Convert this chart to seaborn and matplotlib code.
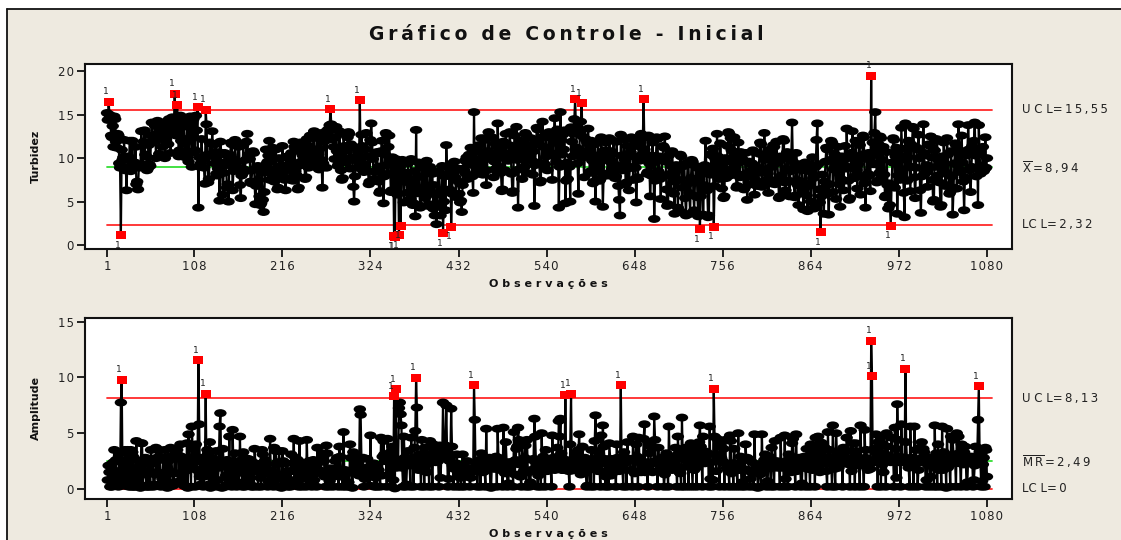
import numpy as np
import pandas as pd
import matplotlib
matplotlib.use("Agg")
import matplotlib.pyplot as plt
import seaborn as sns
from matplotlib.path import Path
from matplotlib.markers import MarkerStyle
from matplotlib.patches import Rectangle
from matplotlib.lines import Line2D
from matplotlib.transforms import Affine2D, blended_transform_factory

# ---------------------------------------------------------------- data
turbidez = [
    # 1-100
    15.2, 14.4, 16.5, 15.0, 14.8, 12.6, 12.4, 13.7, 11.3, 14.8, 14.5, 11.9, 11.2, 12.8, 12.6, 9.4, 8.9, 1.15, 10.95, 9.8,
    10.1, 12.1, 8.6, 8.9, 6.3, 9.8, 10.2, 10.0, 12.0, 8.5, 8.7, 12.0, 9.1, 9.3, 9.5, 11.3, 7.0, 7.3, 6.4, 8.9,
    9.1, 9.0, 13.1, 9.0, 9.3, 11.9, 13.2, 10.4, 10.2, 8.6, 8.8, 11.5, 9.3, 9.1, 12.6, 14.1, 11.8, 12.0, 12.4, 13.7,
    10.0, 12.8, 14.3, 14.0, 10.5, 13.4, 13.6, 12.2, 11.3, 13.9, 13.5, 10.0, 12.7, 14.2, 14.1, 11.6, 14.5, 14.3, 10.6, 13.3,
    14.7, 14.4, 13.8, 17.4, 14.0, 12.6, 16.1, 13.2, 10.2, 10.9, 14.9, 12.0, 10.8, 13.6, 13.9, 11.7, 10.1, 10.3, 14.4, 14.5,
    # 101-200
    9.6, 12.3, 14.8, 14.6, 9.0, 12.6, 14.5, 10.7, 10.9, 14.9, 13.2, 15.85, 4.3, 10.1, 9.0, 9.4, 12.2, 9.8, 10.0, 8.9,
    7.05, 15.6, 13.9, 10.4, 7.2, 7.6, 11.8, 11.7, 10.3, 13.1, 10.5, 10.2, 9.4, 11.6, 8.2, 8.0, 8.8, 10.7, 5.1, 11.9,
    9.5, 9.4, 5.8, 8.3, 10.6, 10.4, 9.2, 6.6, 7.0, 5.0, 9.7, 10.4, 11.8, 11.6, 6.3, 8.5, 8.9, 12.1, 9.7, 9.5,
    8.9, 11.3, 11.6, 6.9, 5.4, 8.0, 8.2, 11.5, 8.7, 8.5, 9.8, 11.9, 12.8, 10.1, 10.4, 9.9, 7.3, 7.1, 8.6, 10.8,
    10.6, 7.0, 4.7, 6.8, 8.9, 9.1, 7.5, 5.6, 4.6, 4.8, 8.3, 5.2, 3.8, 6.1, 8.7, 11.0, 9.4, 9.6, 10.3, 12.0,
    # 201-300
    7.5, 8.2, 9.8, 11.2, 11.0, 7.3, 7.6, 11.0, 8.8, 6.4, 6.6, 10.0, 9.1, 7.9, 8.0, 11.4, 8.9, 7.8, 7.5, 6.3,
    8.6, 10.2, 10.0, 9.3, 7.7, 7.5, 10.6, 9.0, 7.4, 11.9, 11.3, 8.5, 8.1, 9.0, 6.4, 6.6, 10.9, 11.8, 9.6, 9.4,
    10.3, 11.5, 9.2, 7.6, 7.8, 12.2, 10.8, 8.9, 11.4, 12.6, 10.1, 10.3, 9.7, 12.3, 13.1, 10.6, 9.0, 9.2, 12.9, 10.4,
    8.7, 11.1, 12.5, 9.8, 6.6, 9.4, 11.9, 13.0, 12.8, 8.9, 12.1, 13.3, 13.1, 13.8, 15.65, 13.9, 12.2, 12.4, 11.3, 9.9,
    12.4, 13.6, 10.8, 9.1, 9.3, 13.1, 10.2, 8.6, 7.5, 7.7, 12.8, 11.4, 9.7, 9.5, 10.9, 12.4, 13.0, 12.8, 8.8, 11.6,
    # 301-400
    10.1, 10.0, 6.7, 5.0, 7.9, 9.8, 11.2, 8.9, 10.7, 9.5, 16.65, 10.0, 12.7, 11.4, 8.6, 8.4, 9.3, 11.0, 12.9, 10.2,
    8.5, 7.0, 7.3, 12.1, 14.0, 11.8, 9.9, 7.6, 7.4, 8.4, 10.5, 10.7, 9.0, 7.3, 6.0, 6.2, 10.8, 12.0, 9.1, 4.8,
    7.9, 10.4, 12.9, 12.7, 8.2, 11.3, 12.6, 9.4, 6.1, 6.3, 10.1, 9.3, 1.0, 0.95, 9.9, 8.0, 5.8, 8.4, 1.15, 8.9,
    2.2, 7.9, 9.8, 9.6, 4.9, 7.7, 7.9, 8.3, 6.0, 9.4, 7.2, 5.1, 5.3, 9.9, 7.4, 4.6, 4.8, 8.5, 3.3, 13.25,
    5.95, 7.8, 9.5, 6.4, 4.3, 4.5, 8.9, 6.1, 9.3, 9.1, 5.4, 8.2, 9.7, 6.8, 4.5, 4.7, 9.0, 5.9, 8.4, 8.2,
    # 401-500
    4.2, 6.9, 3.4, 5.8, 2.4, 6.0, 8.5, 8.3, 4.4, 3.4, 6.3, 9.1, 1.35, 5.0, 7.9, 4.0, 11.5, 8.2, 8.0, 8.9,
    6.4, 9.3, 2.1, 5.9, 8.0, 7.8, 9.6, 7.8, 5.5, 8.6, 8.8, 7.3, 5.9, 4.9, 5.1, 3.8, 6.9, 8.8, 8.6, 9.7,
    8.2, 10.1, 7.6, 9.3, 10.4, 10.2, 11.2, 9.5, 7.9, 6.0, 15.3, 9.1, 10.7, 8.4, 8.2, 9.8, 11.5, 8.9, 9.1, 12.3,
    9.6, 8.1, 10.5, 12.1, 12.3, 6.9, 8.6, 10.8, 13.0, 10.2, 10.0, 9.9, 12.4, 10.3, 7.8, 9.6, 11.7, 8.8, 8.6, 14.0,
    11.2, 9.0, 10.7, 8.3, 6.2, 6.4, 11.9, 10.0, 8.6, 12.8, 10.4, 10.2, 9.7, 11.5, 13.0, 10.6, 8.2, 6.0, 6.2, 11.3,
    # 501-600
    12.6, 10.0, 13.6, 9.8, 4.3, 8.7, 10.9, 12.0, 11.8, 7.6, 10.2, 11.8, 9.0, 12.9, 12.7, 8.3, 9.9, 11.4, 11.2, 10.6,
    12.3, 9.7, 8.1, 10.8, 4.5, 9.2, 11.6, 13.5, 13.3, 12.1, 9.5, 7.2, 7.4, 12.4, 14.2, 11.3, 9.1, 9.3, 12.8, 10.2,
    8.6, 11.1, 13.0, 10.7, 12.5, 12.3, 7.5, 10.3, 12.9, 14.6, 11.8, 9.6, 13.3, 10.4, 4.3, 9.0, 15.3, 12.1, 10.4, 12.7,
    11.0, 13.2, 4.8, 7.4, 9.5, 7.6, 9.2, 9.0, 5.0, 13.55, 11.9, 10.2, 12.8, 14.5, 16.8, 13.6, 11.2, 9.4, 5.9, 10.8,
    12.9, 14.2, 16.3, 12.5, 10.1, 7.8, 10.6, 12.2, 12.0, 11.7, 13.4, 10.9, 8.3, 8.5, 12.0, 9.7, 7.1, 7.3, 11.6, 5.0,
    # 601-700
    8.4, 10.3, 11.9, 9.0, 7.4, 7.6, 12.4, 10.1, 4.4, 8.2, 10.9, 10.7, 11.8, 10.2, 8.0, 8.2, 12.3, 9.6, 10.8, 8.7,
    10.5, 12.0, 9.3, 7.7, 7.9, 11.9, 9.1, 6.8, 5.2, 3.4, 12.7, 10.3, 8.6, 8.8, 12.1, 9.8, 7.0, 7.2, 11.4, 8.8,
    6.3, 9.0, 10.7, 12.4, 12.2, 7.5, 10.2, 11.6, 8.9, 4.9, 7.8, 7.6, 12.2, 9.7, 11.3, 12.8, 10.4, 12.3, 16.8, 11.0,
    12.5, 10.1, 8.2, 8.4, 12.6, 9.4, 5.6, 8.0, 10.3, 11.8, 9.5, 3.0, 7.4, 9.9, 12.4, 12.2, 8.5, 10.2, 7.6, 5.3,
    8.1, 9.7, 11.4, 11.2, 12.5, 9.6, 6.4, 4.5, 4.7, 10.3, 8.0, 6.2, 9.1, 10.8, 8.4, 5.9, 3.6, 7.3, 9.2, 9.0,
    # 701-800
    4.3, 7.5, 9.0, 10.4, 10.2, 3.8, 6.6, 9.3, 9.1, 5.4, 3.4, 7.0, 9.5, 9.3, 6.0, 3.6, 7.7, 9.8, 9.6, 5.7,
    4.0, 7.2, 9.1, 8.9, 5.5, 3.3, 7.5, 1.8, 5.6, 8.4, 8.2, 3.5, 6.9, 9.2, 12.0, 8.7, 6.3, 3.2, 3.4, 9.0,
    8.1, 10.5, 10.3, 11.1, 2.1, 6.8, 9.9, 8.3, 12.8, 10.2, 7.6, 7.8, 11.7, 8.9, 6.5, 9.0, 5.4, 5.6, 10.0, 7.7,
    9.6, 11.4, 13.0, 12.8, 8.0, 12.3, 10.9, 8.6, 8.8, 12.4, 10.1, 8.3, 6.6, 6.8, 11.8, 9.5, 7.8, 10.7, 10.5, 9.9,
    8.1, 6.4, 6.6, 10.6, 8.0, 5.2, 7.9, 9.6, 9.4, 8.5, 7.0, 9.4, 10.9, 10.7, 5.8, 7.5, 9.0, 6.8, 6.9, 8.3,
    # 801-900
    10.5, 11.8, 11.6, 6.7, 8.6, 10.3, 12.9, 9.8, 7.3, 7.5, 8.2, 6.0, 8.9, 11.0, 10.8, 7.1, 9.6, 11.5, 11.3, 7.0,
    9.4, 11.9, 9.5, 7.6, 5.4, 5.6, 10.2, 8.0, 9.9, 12.2, 12.0, 7.2, 6.3, 8.8, 10.7, 10.5, 7.4, 5.6, 8.5, 10.0,
    14.1, 9.6, 7.3, 5.5, 5.7, 10.6, 9.0, 6.9, 4.6, 7.4, 9.3, 9.1, 8.6, 6.2, 4.1, 7.0, 9.5, 9.3, 5.7, 3.9,
    6.8, 9.2, 9.0, 5.0, 8.4, 10.1, 7.7, 4.2, 4.4, 9.0, 12.1, 14.0, 9.3, 6.4, 4.9, 1.45, 5.6, 8.1, 6.5, 3.6,
    7.3, 9.6, 11.2, 11.0, 5.9, 3.5, 7.0, 9.8, 12.0, 11.8, 6.1, 8.7, 10.5, 10.3, 5.3, 8.6, 11.3, 9.4, 7.0, 4.4,
    # 901-1000
    7.6, 10.2, 10.0, 6.3, 9.1, 11.4, 8.8, 13.4, 10.0, 7.4, 5.2, 5.4, 10.6, 9.0, 13.1, 10.3, 7.7, 7.9, 12.0, 8.6,
    6.5, 9.3, 11.7, 11.5, 5.8, 7.9, 10.4, 12.6, 12.4, 7.1, 4.3, 7.8, 9.9, 8.2, 10.6, 8.0, 6.2, 19.5, 9.4, 11.8,
    9.3, 12.9, 15.3, 10.4, 7.2, 7.4, 11.6, 8.3, 12.5, 12.3, 7.6, 9.8, 11.3, 8.1, 5.5, 5.7, 10.7, 6.9, 4.2, 7.1,
    4.6, 2.2, 6.8, 9.5, 12.3, 12.1, 6.6, 10.2, 11.2, 3.6, 8.0, 10.4, 7.5, 7.7, 13.5, 11.1, 8.7, 6.0, 3.2, 14.0,
    9.8, 7.4, 10.1, 12.0, 11.8, 6.2, 9.0, 11.5, 13.6, 13.4, 7.8, 5.4, 8.9, 11.2, 11.0, 12.7, 10.0, 6.3, 3.7, 7.9,
    # 1001-1080
    10.3, 13.9, 10.6, 8.2, 8.4, 9.2, 6.7, 8.8, 11.6, 11.4, 12.5, 10.1, 7.5, 5.0, 5.2, 10.9, 9.0, 12.2, 12.0, 8.0,
    9.7, 7.2, 4.4, 4.6, 10.2, 8.5, 11.8, 9.3, 6.8, 6.9, 12.3, 10.4, 8.1, 5.9, 6.1, 10.8, 7.9, 3.5, 6.6, 9.4,
    11.7, 11.5, 6.5, 9.2, 13.9, 10.7, 8.4, 8.6, 12.6, 9.5, 7.3, 4.0, 7.8, 10.5, 10.3, 10.9, 13.8, 11.0, 8.6, 6.1,
    9.0, 11.4, 11.2, 12.0, 14.1, 10.3, 7.9, 10.8, 4.6, 13.8, 10.5, 8.2, 8.4, 9.1, 11.3, 8.5, 8.7, 12.4, 8.9, 10.0,
]

# control limits of the individuals chart and of the moving-range chart
i_center, i_ucl, i_lcl = 8.94, 15.55, 2.32
mr_center, mr_ucl, mr_lcl = 2.49, 8.13, 0.0

x_ticks = [1, 108, 216, 324, 432, 540, 648, 756, 864, 972, 1080]

# ---------------------------------------------------------------- frame
obs = np.arange(1, len(turbidez) + 1)
ind = pd.DataFrame({"obs": obs, "valor": turbidez})
ind["amplitude"] = ind["valor"].diff().abs()

sns.set_theme(style="white")
plt.rcParams["font.family"] = ["DejaVu Sans"]
plt.rcParams["mathtext.fontset"] = "dejavusans"

W, H = 1121, 540
fig = plt.figure(figsize=(W / 100, H / 100), dpi=100, facecolor="white")

BEIGE = "#eeeae0"
x0, y0 = 7 / W, 1 - 9 / H
fig.patches.append(Rectangle((x0, 0), 1 - x0, y0, transform=fig.transFigure,
                             facecolor=BEIGE, edgecolor="none", zorder=-10))
fig.lines.append(Line2D([x0, x0], [0, y0], transform=fig.transFigure, color="#111111", lw=1.3))
fig.lines.append(Line2D([x0, 1], [y0, y0], transform=fig.transFigure, color="#111111", lw=1.3))


def spaced(text, sep="\u200a"):
    return sep.join(text)


fig.text(566 / W, 1 - 35 / H, spaced("Gráfico de Controle - Inicial", "\u2009"),
         ha="center", va="center", fontsize=13.5, fontweight="bold", color="#111111")

ellipse = Path.unit_circle().transformed(Affine2D().scale(1.0, 0.64))
ellipse_marker = MarkerStyle(ellipse)
rect = Path.unit_rectangle().transformed(Affine2D().translate(-0.5, -0.5).scale(1.0, 0.8))
rect_marker = MarkerStyle(rect)

GREEN = "#33dd33"
RED = "#ff2a2a"


def draw_chart(ax, data, col, center, ucl, lcl, ylim, yticks, ylabel, labels):
    ax.set_facecolor("white")
    d = data.dropna(subset=[col])
    # limit lines
    for val, colr in ((center, GREEN), (ucl, RED), (lcl, RED)):
        sns.lineplot(x=[1, 1086], y=[val, val], color=colr, linewidth=1.3, ax=ax, zorder=1)
    # connecting line and points
    sns.lineplot(data=d, x="obs", y=col, color="black", linewidth=1.6, ax=ax,
                 estimator=None, sort=False, zorder=2)
    out = (d[col] > ucl) | (d[col] < lcl)
    sns.scatterplot(data=d[~out], x="obs", y=col, marker=ellipse_marker, s=80,
                    color="black", edgecolor="none", linewidth=0, ax=ax, zorder=3)
    sns.scatterplot(data=d[out], x="obs", y=col, marker=rect_marker, s=52,
                    color="#ff0000", edgecolor="none", linewidth=0, ax=ax, zorder=4)
    for _, r in d[out].iterrows():
        above = r[col] > ucl
        ax.annotate("1", (r["obs"], r[col]), xytext=(-2, 4 if above else -4),
                    textcoords="offset points", ha="center",
                    va="bottom" if above else "top", fontsize=6.5, color="#222222", zorder=5)

    ax.set_xlim(-26, 1110.7)
    ax.set_ylim(*ylim)
    ax.set_xticks(x_ticks)
    ax.set_xticklabels([spaced(str(t)) for t in x_ticks])
    ax.set_yticks(yticks)
    ax.set_yticklabels([spaced(str(t)) for t in yticks])
    ax.tick_params(axis="both", which="both", direction="out", length=6, width=1.3,
                   color="#111111", labelsize=8.5, labelcolor="#222222", pad=2,
                   bottom=True, left=True)
    for sp in ax.spines.values():
        sp.set_visible(True)
        sp.set_color("#111111")
        sp.set_linewidth(1.5)
    ax.set_xlabel(spaced("Observações", " "), fontsize=8, fontweight="bold",
                  color="#111111", labelpad=4)
    ax.set_ylabel(ylabel, fontsize=8, fontweight="bold", color="#111111", labelpad=12)

    tr = blended_transform_factory(ax.transAxes, ax.transData)
    for val, txt in labels:
        ax.text(1.0105, val, txt, transform=tr, ha="left", va="center",
                fontsize=8.5, color="#222222")


ax1 = fig.add_axes([85 / W, 1 - 249 / H, 927 / W, 185 / H])
draw_chart(ax1, ind, "valor", i_center, i_ucl, i_lcl, (-0.46, 20.84), [0, 5, 10, 15, 20],
           "Turbidez",
           [(i_ucl, "U C L=\u20091\u20095\u2009,\u20095\u20095"),
            (i_center, r"$\overline{\mathrm{X}}$" + "\u2009=\u20098\u2009,\u20099\u20094"),
            (i_lcl, "LC L=\u20092\u2009,\u20093\u20092")])

ax2 = fig.add_axes([85 / W, 1 - 499 / H, 927 / W, 181 / H])
draw_chart(ax2, ind, "amplitude", mr_center, mr_ucl, mr_lcl, (-0.9, 15.33), [0, 5, 10, 15],
           "Amplitude",
           [(mr_ucl, "U C L=\u20098\u2009,\u20091\u20093"),
            (mr_center, r"$\overline{\mathrm{M}}\,\overline{\mathrm{R}}$" + "\u2009=\u20092\u2009,\u20094\u20099"),
            (mr_lcl, "LC L=\u20090")])

fig.savefig("out.png", dpi=100, facecolor=fig.get_facecolor())
